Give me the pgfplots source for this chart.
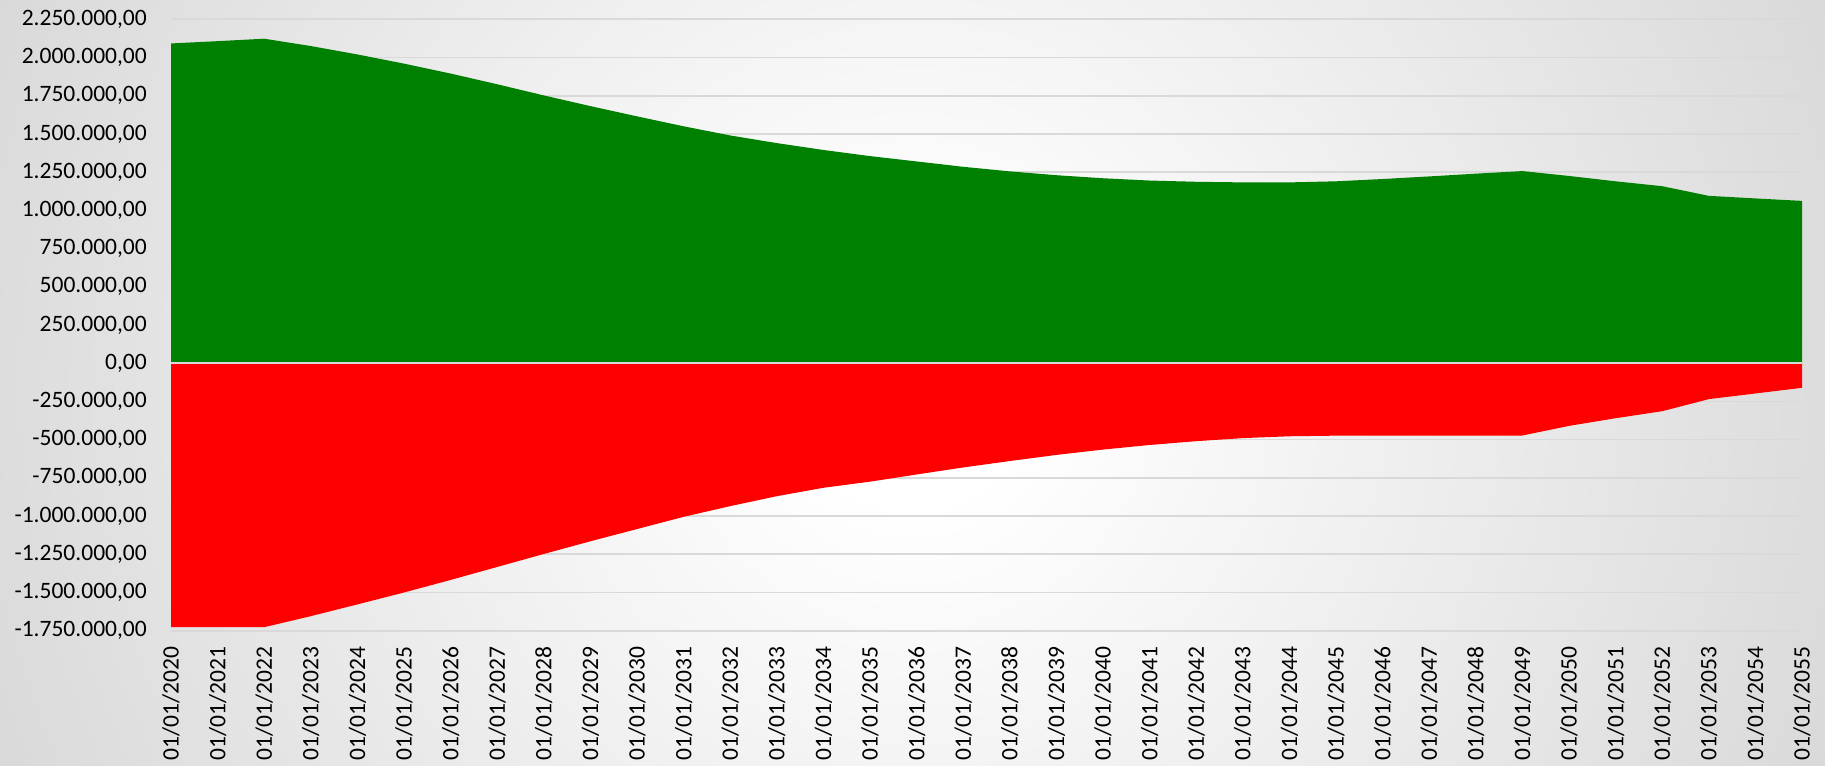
\documentclass[border=0pt]{standalone}
\usepackage{fontspec}
\setmainfont{Carlito}
\usepackage{pgfplots}
\pgfplotsset{compat=1.18}
\definecolor{exgreen}{RGB}{0,128,0}
\definecolor{exred}{RGB}{255,0,0}
\definecolor{gridgray}{RGB}{217,217,217}
\pgfdeclareradialshading{bgshade}{\pgfpoint{0bp}{0bp}}{color(0bp)=(white); color(3bp)=(white); color(25bp)=(black!15); color(50bp)=(black!15)}
\begin{document}
\begin{tikzpicture}
\useasboundingbox (0,0) rectangle (1825bp,766bp);
\begin{scope}
\clip (0,0) rectangle (1825bp,766bp);
\shade[shading=bgshade] (-87.5bp,-617bp) rectangle +(2000bp,2000bp);
\end{scope}
\begin{axis}[
  at={(171bp,135.3bp)}, anchor=south west,
  scale only axis, width=1631bp, height=611.4bp,
  xmin=0, xmax=35, ymin=-1750000, ymax=2250000,
  axis line style={draw=none},
  major tick length=0pt,
  ytick={-1750000,-1500000,...,2250000},
  scaled y ticks=false,
  /pgf/number format/fixed,
  /pgf/number format/fixed zerofill,
  /pgf/number format/precision=2,
  /pgf/number format/1000 sep={.},
  /pgf/number format/dec sep={,},
  /pgf/number format/assume math mode=true,
  yticklabel style={inner sep=0pt, xshift=-24bp},
  xtick={0,...,35},
  xticklabels={01/01/2020,01/01/2021,01/01/2022,01/01/2023,01/01/2024,01/01/2025,01/01/2026,01/01/2027,01/01/2028,01/01/2029,01/01/2030,01/01/2031,01/01/2032,01/01/2033,01/01/2034,01/01/2035,01/01/2036,01/01/2037,01/01/2038,01/01/2039,01/01/2040,01/01/2041,01/01/2042,01/01/2043,01/01/2044,01/01/2045,01/01/2046,01/01/2047,01/01/2048,01/01/2049,01/01/2050,01/01/2051,01/01/2052,01/01/2053,01/01/2054,01/01/2055},
  xticklabel style={yshift=-16bp, rotate=90, anchor=east, inner sep=0pt},
  tick label style={font=\fontsize{23.6}{28}\selectfont, text=black},
  ymajorgrids, grid style={gridgray, line width=1.6bp},
  clip=false,
]
\addplot[draw=none, fill=exgreen] table {
0 2092000
1 2107000
2 2123000
3 2075000
4 2020000
5 1960000
6 1895000
7 1825000
8 1752000
9 1682000
10 1615000
11 1550000
12 1490000
13 1440000
14 1395000
15 1355000
16 1320000
17 1285000
18 1255000
19 1230000
20 1210000
21 1195000
22 1187000
23 1183000
24 1183000
25 1190000
26 1205000
27 1222000
28 1240000
29 1257000
30 1225000
31 1190000
32 1158000
33 1095000
34 1078000
35 1062000
} \closedcycle;
\addplot[draw=none, fill=exred] table {
0 -1727000
1 -1727000
2 -1727000
3 -1655000
4 -1578000
5 -1500000
6 -1418000
7 -1333000
8 -1248000
9 -1165000
10 -1085000
11 -1005000
12 -935000
13 -870000
14 -815000
15 -775000
16 -728000
17 -682000
18 -640000
19 -600000
20 -565000
21 -535000
22 -510000
23 -490000
24 -478000
25 -474000
26 -473000
27 -473000
28 -473000
29 -473000
30 -410000
31 -360000
32 -314000
33 -235000
34 -198000
35 -161000
} \closedcycle;
\draw[gridgray, line width=1.8bp] (axis cs:0,0) -- (axis cs:35,0);
\end{axis}
\end{tikzpicture}
\end{document}
